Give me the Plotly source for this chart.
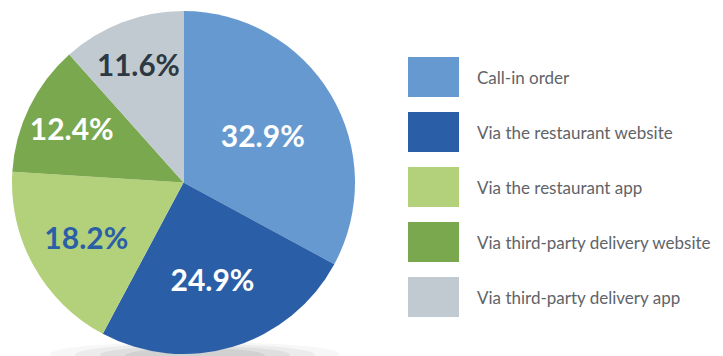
import plotly.graph_objects as go

labels = ["Call-in order", "Via the restaurant website", "Via the restaurant app",
          "Via third-party delivery website", "Via third-party delivery app"]
values = [32.9, 24.9, 18.2, 12.4, 11.6]
colors = ["#6699cf", "#2a5fa8", "#b3d17a", "#7aa84f", "#c2cad1"]
text_colors = ["#ffffff", "#ffffff", "#2a5fa8", "#ffffff", "#2d3942"]

W, H = 723, 356
fig = go.Figure()
fig.add_trace(go.Pie(
    labels=labels, values=values, sort=False, direction="clockwise", rotation=0,
    marker=dict(colors=colors, line=dict(width=0)),
    texttemplate="%{value:.1f}%", textposition="inside", insidetextorientation="horizontal",
    textfont=dict(family="Lato", size=30, color=text_colors, weight="bold"),
    domain=dict(x=[12 / W, 355 / W], y=[(356 - 354) / H, (356 - 11) / H]),
    showlegend=False, hoverinfo="label+percent",
))

# soft shadow under the pie
for i, op in enumerate([0.06, 0.08, 0.10, 0.12]):
    fig.add_shape(type="circle", xref="paper", yref="paper", layer="below",
                  x0=(50 + i * 25) / W, x1=(340 - i * 25) / W,
                  y0=(-10 + i * 1) / H, y1=(14 - i * 2) / H,
                  fillcolor="#707070", opacity=op, line=dict(width=0))

# legend built from labels/colors
row0, step = 77, 55
for i, (lab, col) in enumerate(zip(labels, colors)):
    cy = row0 + i * step
    fig.add_shape(type="rect", xref="paper", yref="paper",
                  x0=408 / W, x1=459 / W, y0=(H - cy - 20) / H, y1=(H - cy + 20) / H,
                  fillcolor=col, line=dict(width=0))
    fig.add_annotation(xref="paper", yref="paper", x=475 / W, y=(H - cy) / H,
                       text=lab, showarrow=False, xanchor="left", yanchor="middle",
                       font=dict(family="Lato", size=17, color="#5f6469"))

fig.update_layout(width=W, height=H, margin=dict(l=0, r=0, t=0, b=0),
                  paper_bgcolor="white", plot_bgcolor="white")
fig.write_html("out.html")
